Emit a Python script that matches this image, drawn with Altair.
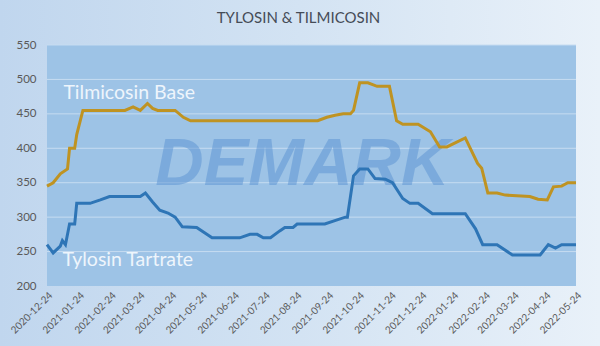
import altair as alt
import pandas as pd

# ---- data ----
title_text = "TYLOSIN & TILMICOSIN"

tilmicosin_dates = [
    "2020-12-24", "2020-12-30", "2021-01-06", "2021-01-13", "2021-01-15", "2021-01-20",
    "2021-01-22", "2021-01-28", "2021-03-10", "2021-03-18", "2021-03-25", "2021-04-01",
    "2021-04-06", "2021-04-11", "2021-04-28", "2021-05-06", "2021-05-13", "2021-09-14",
    "2021-09-23", "2021-10-01", "2021-10-09", "2021-10-16", "2021-10-19", "2021-10-25",
    "2021-11-02", "2021-11-11", "2021-11-23", "2021-11-30", "2021-12-06", "2021-12-21",
    "2022-01-02", "2022-01-11", "2022-01-18", "2022-02-05", "2022-02-17", "2022-02-21",
    "2022-02-27", "2022-03-08", "2022-03-16", "2022-04-09", "2022-04-17", "2022-04-26",
    "2022-05-02", "2022-05-10", "2022-05-16", "2022-05-24",
]
tilmicosin_values = [
    345, 350, 363, 370, 400, 400,
    420, 455, 455, 460, 455, 465,
    458, 455, 455, 445, 440, 440,
    445, 448, 450, 450, 455, 495,
    495, 490, 490, 440, 435, 435,
    424, 402, 402, 415, 378, 371,
    335, 335, 332, 330, 326, 325,
    344, 345, 350, 350,
]

tylosin_dates = [
    "2020-12-24", "2020-12-30", "2021-01-06", "2021-01-08", "2021-01-11", "2021-01-15",
    "2021-01-20", "2021-01-22", "2021-02-04", "2021-02-14", "2021-02-23", "2021-03-25",
    "2021-03-30", "2021-04-06", "2021-04-13", "2021-04-21", "2021-04-28", "2021-05-05",
    "2021-05-19", "2021-06-03", "2021-06-30", "2021-07-10", "2021-07-17", "2021-07-23",
    "2021-07-30", "2021-08-08", "2021-08-13", "2021-08-21", "2021-08-25", "2021-09-21",
    "2021-10-03", "2021-10-11", "2021-10-13", "2021-10-19", "2021-10-25", "2021-11-02",
    "2021-11-09", "2021-11-19", "2021-11-26", "2021-12-06", "2021-12-13", "2021-12-21",
    "2022-01-04", "2022-02-05", "2022-02-15", "2022-02-22", "2022-03-08", "2022-03-23",
    "2022-04-19", "2022-04-27", "2022-05-04", "2022-05-10", "2022-05-24",
]
tylosin_values = [
    260, 248, 258, 266, 260, 290,
    290, 320, 320, 325, 330, 330,
    335, 322, 310, 306, 300, 286,
    285, 270, 270, 275, 275, 270,
    270, 280, 285, 285, 290, 290,
    296, 300, 300, 360, 370, 370,
    356, 355, 350, 327, 320, 320,
    305, 305, 283, 260, 260, 245,
    245, 260, 255, 260, 260,
]

x_tick_labels = [
    "2020-12-24", "2021-01-24", "2021-02-24", "2021-03-24", "2021-04-24", "2021-05-24",
    "2021-06-24", "2021-07-24", "2021-08-24", "2021-09-24", "2021-10-24", "2021-11-24",
    "2021-12-24", "2022-01-24", "2022-02-24", "2022-03-24", "2022-04-24", "2022-05-24",
]
y_ticks = [200, 250, 300, 350, 400, 450, 500, 550]

series_names = ["Tilmicosin Base", "Tylosin Tartrate"]
series_colors = ["#bf9322", "#2e75b6"]

label_names = ["Tilmicosin Base", "Tylosin Tartrate"]
label_dates = ["2021-01-09", "2021-01-08"]
label_values = [480, 238]

watermark_text = ["DEMARK"]
watermark_date = ["2021-08-30"]
watermark_value = [376]

# ---- tables ----
lines_df = pd.concat([
    pd.DataFrame({"date": tilmicosin_dates, "value": tilmicosin_values, "series": series_names[0]}),
    pd.DataFrame({"date": tylosin_dates, "value": tylosin_values, "series": series_names[1]}),
], ignore_index=True)
labels_df = pd.DataFrame({"date": label_dates, "value": label_values, "text": label_names})
wm_df = pd.DataFrame({"date": watermark_date, "value": watermark_value, "text": watermark_text})
grid_df = pd.DataFrame({"value": y_ticks[1:]})
area_df = pd.DataFrame({"date": [x_tick_labels[0]], "d2": [x_tick_labels[-1]],
                        "value": [y_ticks[0]], "v2": [y_ticks[-1]]})
title_df = pd.DataFrame({"text": [title_text]})

tick_ms = [int(pd.Timestamp(d, tz="UTC").timestamp() * 1000) for d in x_tick_labels]

W, H = 529, 241
PAD = {"left": 47, "top": 45, "right": 24, "bottom": 60}

x_scale = alt.Scale(type="utc", domain=[x_tick_labels[0], x_tick_labels[-1]], nice=False)
y_scale = alt.Scale(domain=[y_ticks[0], y_ticks[-1]], nice=False, zero=False)

FONT = "Lato"
AX_COLOR = "#595959"

x_axis = alt.Axis(values=tick_ms, format="%Y-%m-%d", labelAngle=-45,
                  labelAlign="right", labelBaseline="top", labelPadding=4,
                  labelFontSize=10, labelFont=FONT, labelColor=AX_COLOR,
                  domain=False, ticks=False, grid=False, labelOverlap=False,
                  title=None, zindex=2)
y_axis = alt.Axis(values=y_ticks, labelPadding=11, labelFontSize=11.5,
                  labelFont=FONT, labelColor=AX_COLOR,
                  domain=False, ticks=False, grid=False, title=None, zindex=2)

X = alt.X("date:T", scale=x_scale, axis=x_axis, title=None)
Y = alt.Y("value:Q", scale=y_scale, axis=y_axis, title=None)

bg = alt.Chart(alt.Data(values=[{}])).mark_rect(
    fill=alt.LinearGradient(
        gradient="linear", x1=0, y1=0, x2=1, y2=0,
        stops=[alt.GradientStop(color="#c0d6ee", offset=0),
               alt.GradientStop(color="#d3e3f3", offset=0.5),
               alt.GradientStop(color="#e9f1f9", offset=1)],
    )
).encode(
    x=alt.value(-PAD["left"]), x2=alt.value(W + PAD["right"]),
    y=alt.value(-PAD["top"]), y2=alt.value(H + PAD["bottom"]),
)

plot_area = alt.Chart(area_df).mark_rect(color="#9dc3e6").encode(
    x=X, x2="d2:T", y=Y, y2="v2:Q",
)

grid = alt.Chart(grid_df).mark_rule(color="#c6dcf1", strokeWidth=1).encode(y=Y)

watermark = alt.Chart(wm_df).mark_text(
    font="Liberation Sans", fontSize=67, fontWeight="bold", fontStyle="italic",
    color="#5b93d3", opacity=0.5, align="center", baseline="middle",
).encode(x=X, y=Y, text="text:N")

lines = alt.Chart(lines_df).mark_line(strokeWidth=3, interpolate="linear").encode(
    x=X, y=Y,
    color=alt.Color("series:N", scale=alt.Scale(domain=series_names, range=series_colors),
                    legend=None),
)

labels = alt.Chart(labels_df).mark_text(
    font=FONT, fontSize=19.5, color="#eef5fc", align="left", baseline="middle",
).encode(x=X, y=Y, text="text:N")

title = alt.Chart(title_df).mark_text(
    font=FONT, fontSize=15, color="#454c57", align="center", baseline="middle",
).encode(x=alt.value(W / 2 - 13), y=alt.value(-27), text="text:N")

chart = alt.layer(bg, plot_area, grid, watermark, lines, labels, title).properties(
    width=W, height=H,
    padding=PAD,
    autosize=alt.AutoSizeParams(type="none"),
).configure_view(stroke=None).configure(background="#d3e3f3")

chart.save("out.html", embed_options={"renderer": "svg", "actions": False})
